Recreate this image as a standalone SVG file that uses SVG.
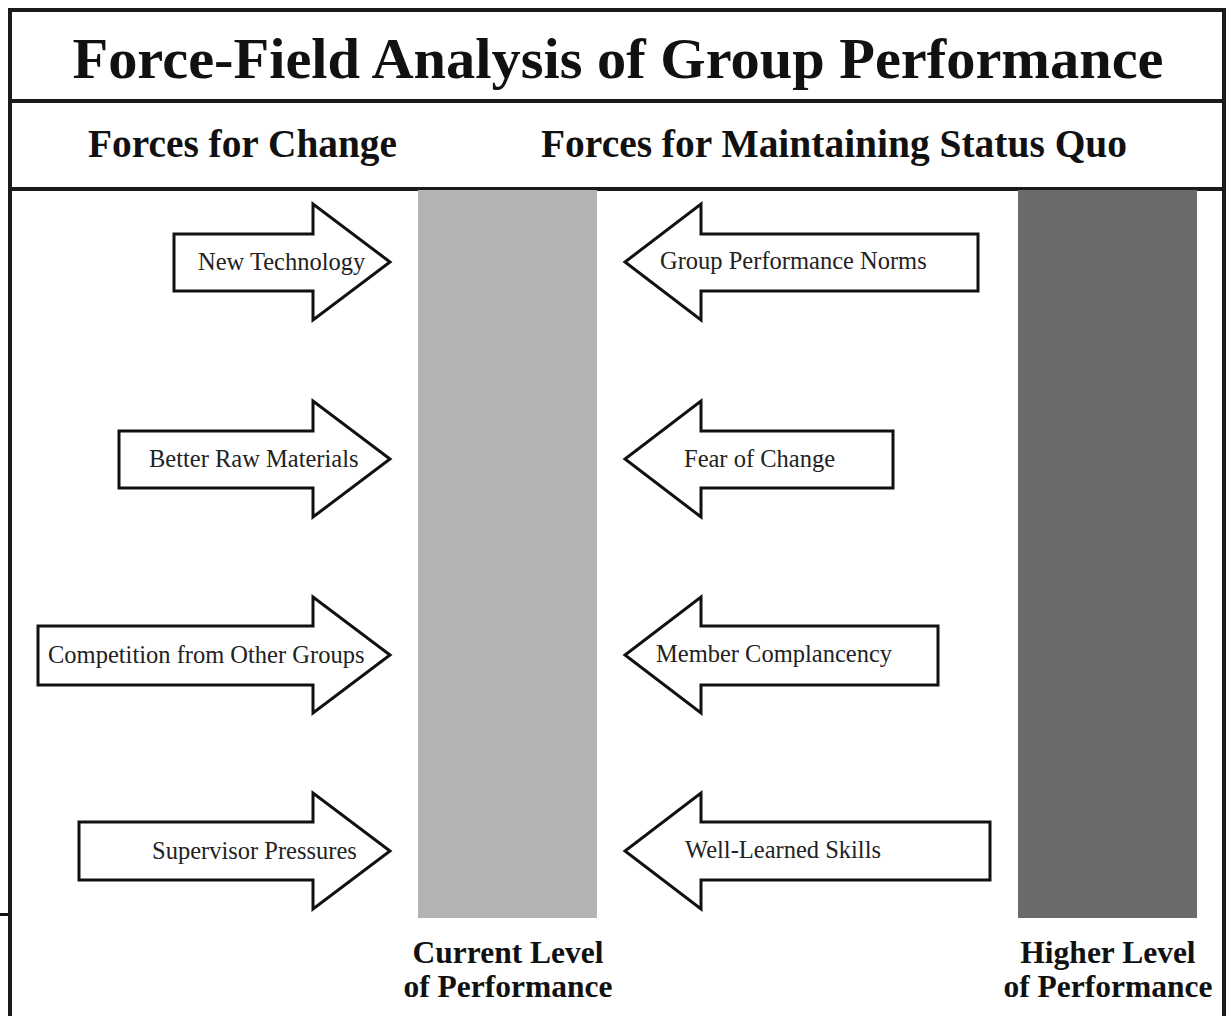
<svg xmlns="http://www.w3.org/2000/svg" width="1228" height="1016" viewBox="0 0 1228 1016">
<style>
.frame{fill:none;stroke:#1a1a1a;stroke-width:4}
.arrow{fill:#fff;stroke:#111;stroke-width:3;stroke-linejoin:miter}
.lbl{font-family:"Liberation Serif",serif;font-size:24.5px;fill:#222}
.title{font-family:"Liberation Serif",serif;font-weight:bold;font-size:58px;fill:#111;text-anchor:middle}
.head{font-family:"Liberation Serif",serif;font-weight:bold;font-size:39.5px;fill:#111}
.bot{font-family:"Liberation Serif",serif;font-weight:bold;font-size:31.5px;fill:#111;text-anchor:middle}
</style>
<rect width="1228" height="1016" fill="#fff"/>
<g id="frame">
<path class="frame" d="M10,1016 V10 H1224 V1016"/>
<line class="frame" x1="10" y1="101" x2="1224" y2="101"/>
<line class="frame" x1="10" y1="189" x2="1224" y2="189"/>
<rect x="0" y="913" width="8" height="3" fill="#111"/>
</g>
<g id="title"><text class="title" x="618" y="78" textLength="1091" lengthAdjust="spacingAndGlyphs">Force-Field Analysis of Group Performance</text></g>
<g id="headers">
<text class="head" x="88" y="157" textLength="309" lengthAdjust="spacingAndGlyphs">Forces for Change</text>
<text class="head" x="541" y="157" textLength="586" lengthAdjust="spacingAndGlyphs">Forces for Maintaining Status Quo</text>
</g>
<g id="bar-current"><rect x="418" y="190" width="179" height="728" fill="#b3b3b3"/>
<text class="bot" x="508" y="963">Current Level</text><text class="bot" x="508" y="997">of Performance</text></g>
<g id="bar-higher"><rect x="1018" y="190" width="179" height="728" fill="#6b6b6b"/>
<text class="bot" x="1108" y="963">Higher Level</text><text class="bot" x="1108" y="997">of Performance</text></g>
<g id="connectors"></g>
<g id="new-technology"><path class="arrow" d="M174,234 H313 V204 L390,262 L313,320 V291 H174 Z"/><text class="lbl" x="198" y="270">New Technology</text></g>
<g id="better-raw-materials"><path class="arrow" d="M119,431 H313 V401 L390,459 L313,517 V488 H119 Z"/><text class="lbl" x="149" y="467">Better Raw Materials</text></g>
<g id="competition"><path class="arrow" d="M38,626 H313 V597 L390,655 L313,713 V685 H38 Z"/><text class="lbl" x="48" y="663">Competition from Other Groups</text></g>
<g id="supervisor-pressures"><path class="arrow" d="M79,822 H313 V793 L390,851 L313,909 V880 H79 Z"/><text class="lbl" x="152" y="859">Supervisor Pressures</text></g>
<g id="group-performance-norms"><path class="arrow" d="M978,234 H701 V204 L625,262 L701,320 V291 H978 Z"/><text class="lbl" x="660" y="269">Group Performance Norms</text></g>
<g id="fear-of-change"><path class="arrow" d="M893,431 H701 V401 L625,459 L701,517 V488 H893 Z"/><text class="lbl" x="684" y="467">Fear of Change</text></g>
<g id="member-complancency"><path class="arrow" d="M938,626 H701 V597 L625,655 L701,713 V685 H938 Z"/><text class="lbl" x="656" y="662">Member Complancency</text></g>
<g id="well-learned-skills"><path class="arrow" d="M990,822 H701 V793 L625,851 L701,909 V880 H990 Z"/><text class="lbl" x="685" y="858">Well-Learned Skills</text></g>
</svg>
